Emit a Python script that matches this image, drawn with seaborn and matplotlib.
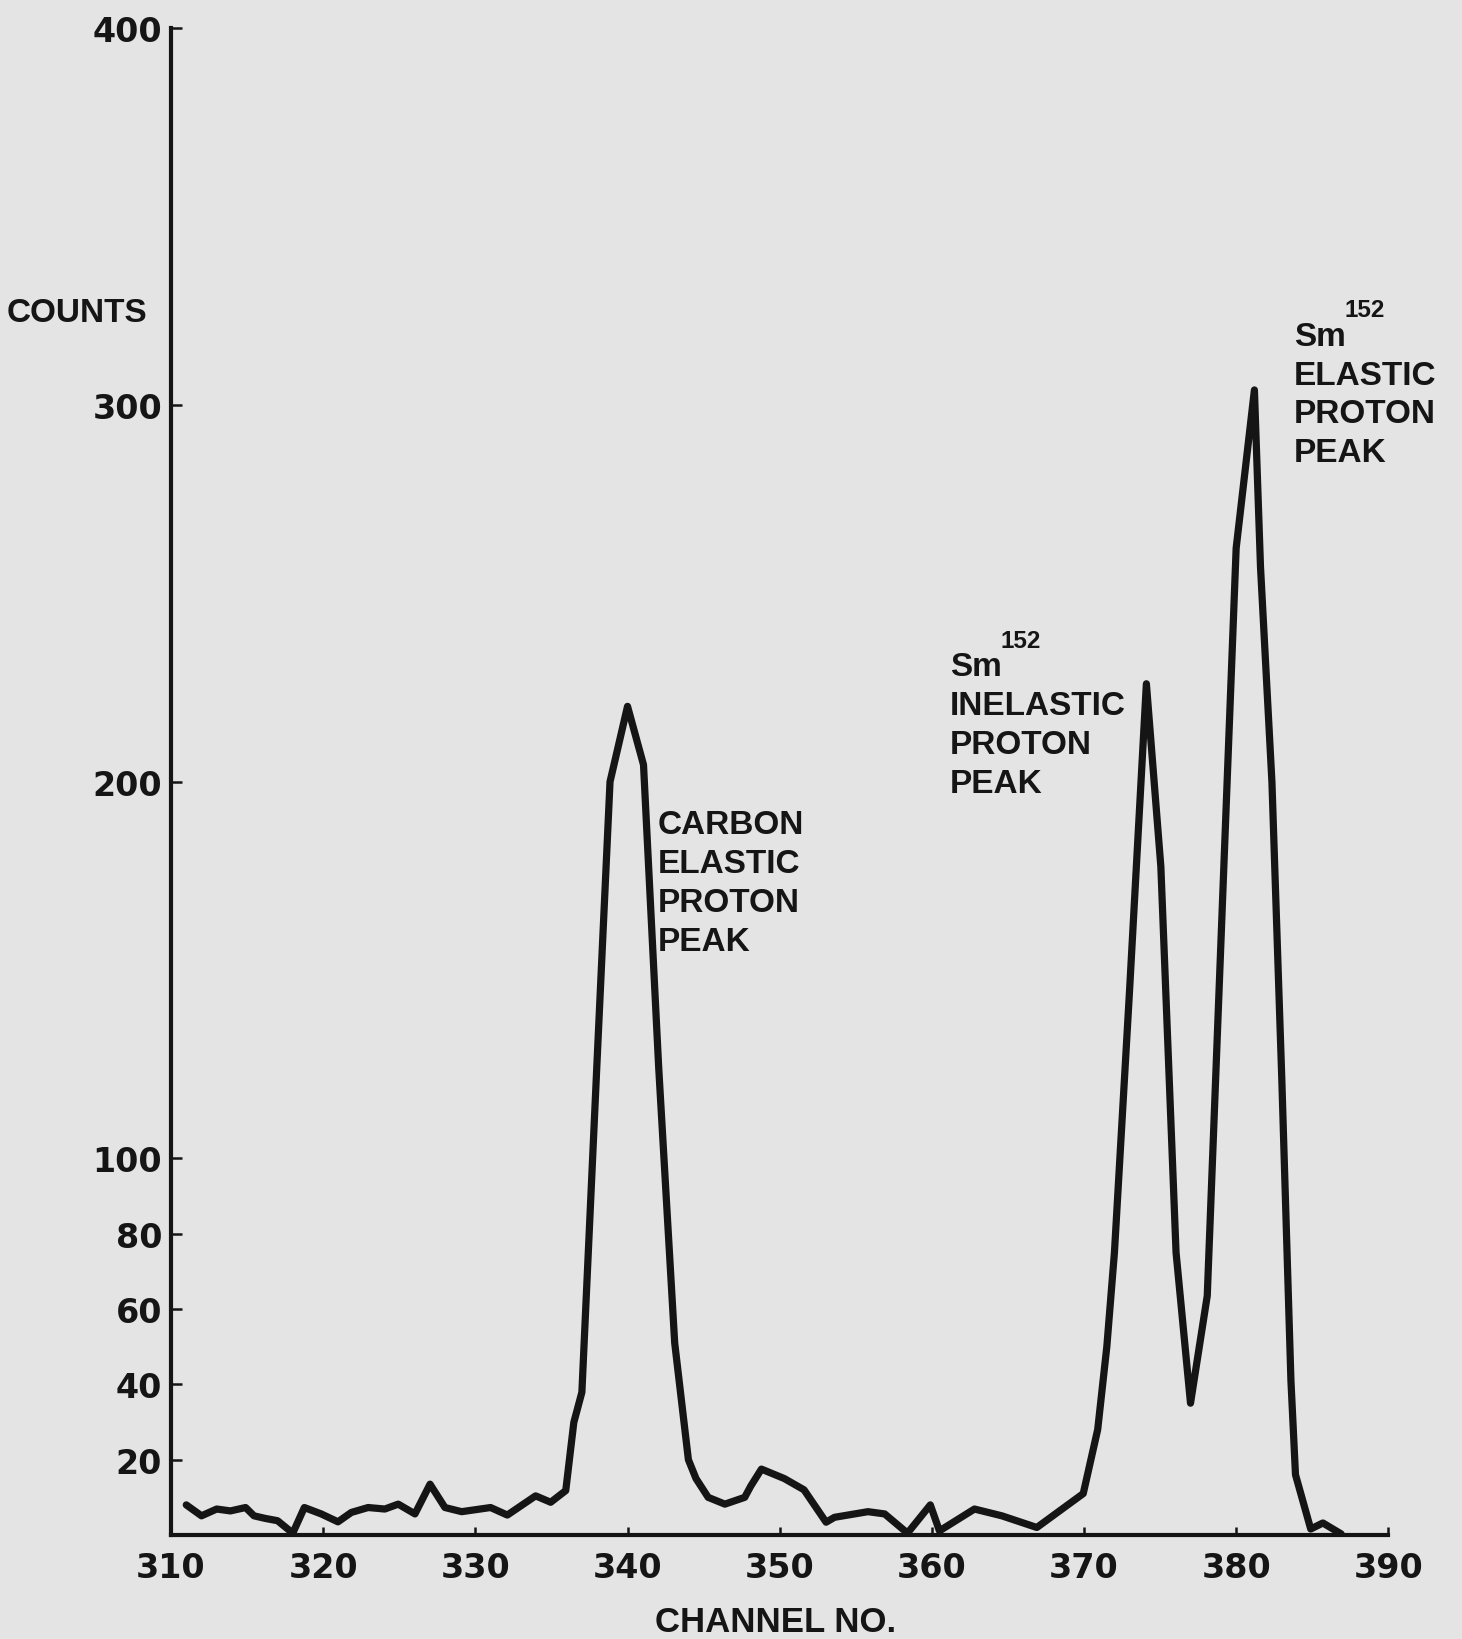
import matplotlib
matplotlib.use('Agg')
import matplotlib.pyplot as plt
import pandas as pd
import seaborn as sns

# espectro: canal x contagens
channel = [311.0, 312.0, 313.0, 313.9, 314.9, 315.45, 316.2, 317.0, 318.0, 318.76,
           319.87, 320.97, 321.85, 322.95, 324.05, 324.93, 326.03, 327.02, 328.0, 329.1,
           331.0, 332.1, 333.96, 334.95, 335.94, 336.47, 337.0, 338.0, 338.85, 340.0,
           341.05, 342.05, 343.1, 344.0, 344.5, 345.3, 346.4, 347.7, 348.1, 348.8,
           350.3, 351.6, 353.05, 353.6, 355.8, 356.9, 358.4, 359.9, 360.5, 362.8,
           364.6, 366.9, 369.95, 370.9, 371.5, 372.0, 373.0, 374.1, 375.05, 376.05,
           377.0, 378.1, 380.0, 381.2, 381.6, 382.35, 383.0, 383.6, 383.9, 384.9,
           385.7, 386.9]
counts = [8.0, 5.1, 6.9, 6.4, 7.3, 5.1, 4.4, 3.8, 0.5, 7.3,
          5.6, 3.5, 6.0, 7.3, 6.9, 8.2, 5.6, 13.5, 7.3, 6.2,
          7.3, 5.3, 10.4, 8.7, 11.8, 29.9, 37.9, 126, 200, 220,
          204.5, 124, 51, 20, 15, 10, 8.2, 10, 13, 17.5,
          15, 12, 3.4, 4.7, 6.2, 5.6, 0.5, 8, 1.1, 6.9,
          5.1, 2.0, 11, 28, 50, 75, 145, 226, 177.5, 75,
          35, 63.5, 262, 304, 257, 200, 121, 41, 16, 1.6,
          3.2, 0.3]

x_ticks = [310, 320, 330, 340, 350, 360, 370, 380, 390]
y_ticks = [20, 40, 60, 80, 100, 200, 300, 400]

# rotulos dos picos
peak_x = [342.0, 361.2, 383.8]
peak_y = [192.7, 234.7, 322.4]
peak_txt = ['CARBON\nELASTIC\nPROTON\nPEAK',
            'Sm\nINELASTIC\nPROTON\nPEAK',
            'Sm\nELASTIC\nPROTON\nPEAK']

sns.set_style('ticks')
plt.rcParams['font.family'] = ['Liberation Sans', 'DejaVu Sans']
plt.rcParams['font.weight'] = 'bold'

paper = '#e4e4e4'
ink = '#151515'

fig = plt.figure(figsize=(14.62, 16.40), dpi=100, facecolor=paper)
ax = fig.add_axes([0.117, 0.0634, 0.8326, 0.9187])
ax.set_facecolor(paper)

df = pd.DataFrame({'canal': channel, 'contagens': counts})
sns.lineplot(data=df, x='canal', y='contagens', ax=ax, color=ink, linewidth=5.2,
             estimator=None, sort=False, solid_joinstyle='round', solid_capstyle='round')

ax.set_xlim(310, 390)
ax.set_ylim(0, 400)
ax.set_xticks(x_ticks)
ax.set_yticks(y_ticks)
ax.tick_params(axis='both', direction='in', color=ink, width=1.8, labelcolor=ink, labelsize=24)
ax.tick_params(axis='x', length=6, pad=11.5)
ax.tick_params(axis='y', length=8, pad=6.5)
for lab in ax.get_xticklabels() + ax.get_yticklabels():
    lab.set_fontfamily('DejaVu Sans')
    lab.set_fontweight('bold')

sns.despine(ax=ax)
for side in ['left', 'bottom']:
    ax.spines[side].set_linewidth(3)
    ax.spines[side].set_color(ink)

ax.set_xlabel('CHANNEL NO.', fontsize=25, fontweight='bold', color=ink)
ax.xaxis.set_label_coords(0.497, -0.0465)
ax.set_ylabel('COUNTS', rotation=0, ha='left', va='top', fontsize=24, fontweight='bold', color=ink)
ax.yaxis.set_label_coords(-0.1347, 0.8217)

for x, y, t in zip(peak_x, peak_y, peak_txt):
    ax.text(x, y, t, ha='left', va='top', fontsize=24, fontweight='bold',
            linespacing=1.33, color=ink)
    if t.startswith('Sm'):
        ax.annotate('152', xy=(x, y), xytext=(36.5, 16), textcoords='offset points',
                    ha='left', va='top', fontsize=17.5, fontweight='bold', color=ink)

fig.savefig('out.png', dpi=100, facecolor=paper)
